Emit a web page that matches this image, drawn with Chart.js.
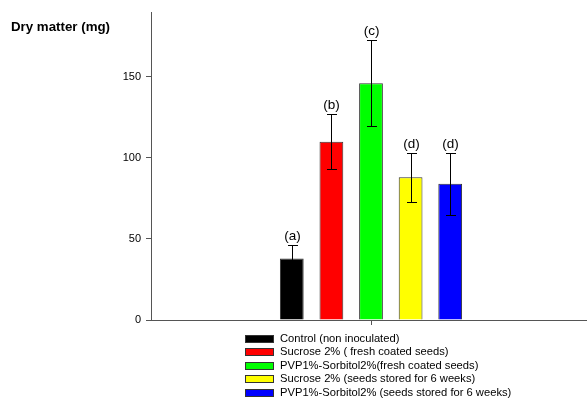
<!DOCTYPE html>
<html>
<head>
<meta charset="utf-8">
<script src="https://cdn.jsdelivr.net/npm/chart.js@4.4.0/dist/chart.umd.min.js"></script>
<style>
  html, body { margin: 0; padding: 0; background: #fff; overflow: hidden; }
  #wrap { position: relative; width: 591px; height: 405px; }
</style>
</head>
<body>
<div id="wrap"><canvas id="my"></canvas></div>
<script>
// data
const treatments = [
  "Control (non inoculated)",
  "Sucrose 2% ( fresh coated seeds)",
  "PVP1%-Sorbitol2%(fresh coated seeds)",
  "Sucrose 2% (seeds stored for 6 weeks)",
  "PVP1%-Sorbitol2% (seeds stored for 6 weeks)"
];
const dryMatter = [38, 110, 146, 88, 84];
const errors = [8.5, 17, 26.5, 15, 19];
const letters = ["(a)", "(b)", "(c)", "(d)", "(d)"];
const colors = ["#000000", "#ff0000", "#00ff00", "#ffff00", "#0000ff"];
const yTicks = [0, 50, 100, 150];

const FONT = "'Liberation Sans', Arial, sans-serif";

// error bars, letters, legend and axis title
const extras = {
  id: 'extras',
  afterDatasetsDraw(chart) {
    const ctx = chart.ctx;
    const y = chart.scales.y;
    ctx.save();
    chart.data.datasets.forEach((ds, i) => {
      const bar = chart.getDatasetMeta(i).data[0];
      const v = dryMatter[i], e = errors[i];
      const x = Math.round(bar.x);
      const top = Math.round(y.getPixelForValue(v + e));
      const bot = Math.round(y.getPixelForValue(v - e));
      ctx.strokeStyle = '#000';
      ctx.lineWidth = 1;
      ctx.beginPath();
      ctx.moveTo(x + 0.5, top); ctx.lineTo(x + 0.5, bot);
      ctx.moveTo(x - 4, top + 0.5); ctx.lineTo(x + 6, top + 0.5);
      ctx.moveTo(x - 4, bot + 0.5); ctx.lineTo(x + 6, bot + 0.5);
      ctx.stroke();
      ctx.fillStyle = '#000';
      ctx.font = '13.5px ' + FONT;
      ctx.textAlign = 'center';
      ctx.textBaseline = 'bottom';
      ctx.fillText(letters[i], x + 0.5, top - 2);
    });

    // y axis title
    ctx.font = 'bold 13.3px ' + FONT;
    ctx.textAlign = 'left';
    ctx.textBaseline = 'middle';
    ctx.fillStyle = '#000';
    ctx.fillText('Dry matter (mg)', 11, 27);

    // legend
    ctx.font = '11.2px ' + FONT;
    treatments.forEach((t, i) => {
      const cy = 339 + i * 13.4;
      ctx.fillStyle = colors[i];
      ctx.fillRect(245, Math.round(cy - 4), 29, 8);
      ctx.strokeStyle = '#333';
      ctx.strokeRect(245.5, Math.round(cy - 4) + 0.5, 28, 7);
      ctx.fillStyle = '#000';
      ctx.fillText(t, 280, cy);
    });
    ctx.restore();
  }
};

new Chart(document.getElementById('my'), {
  type: 'bar',
  data: {
    labels: [''],
    datasets: treatments.map((t, i) => ({
      label: t,
      data: [dryMatter[i]],
      backgroundColor: colors[i],
      borderColor: '#333',
      borderWidth: 1,
      categoryPercentage: 0.45,
      barPercentage: 0.6
    }))
  },
  options: {
    responsive: true,
    maintainAspectRatio: false,
    animation: false,
    layout: { padding: { top: 12, right: 0, left: 0, bottom: 0 } },
    plugins: { legend: { display: false }, tooltip: { enabled: false } },
    scales: {
      x: {
        grid: { offset: false, drawOnChartArea: false, tickLength: 5, color: '#555' },
        border: { color: '#555' },
        ticks: { display: true },
        afterFit: s => { s.height = 85; }
      },
      y: {
        min: 0,
        max: 190,
        grid: { drawOnChartArea: false, tickLength: 5, color: '#555' },
        border: { color: '#555' },
        ticks: { stepSize: 50, color: '#000', padding: 5, font: { family: FONT, size: 11 } },
        afterBuildTicks: s => { s.ticks = yTicks.map(v => ({ value: v })); },
        afterFit: s => { s.width = 151; }
      }
    }
  },
  plugins: [extras]
});
</script>
</body>
</html>
